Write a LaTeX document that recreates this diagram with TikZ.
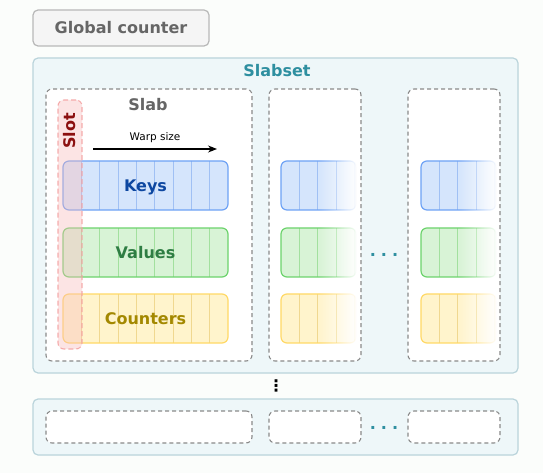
\documentclass[tikz,border=0pt]{standalone}
\usepackage{fontspec}
\setmainfont{DejaVu Sans}
\usetikzlibrary{arrows.meta,calc,fadings,positioning}

\definecolor{bgwhite}{HTML}{FBFDFB}
\definecolor{gcfill}{HTML}{F5F5F5}
\definecolor{gcline}{HTML}{B8B8B8}
\definecolor{graytext}{HTML}{666666}
\definecolor{setfill}{HTML}{EEF7F9}
\definecolor{setline}{HTML}{BAD4DB}
\definecolor{settext}{HTML}{2E8FA0}
\definecolor{slabline}{HTML}{8A8A8A}
\definecolor{slotfill}{HTML}{F9BDBD}
\definecolor{slotline}{HTML}{F4A0A0}
\definecolor{slottext}{HTML}{8B1010}
\definecolor{keyfill}{HTML}{D5E5FC}
\definecolor{keyline}{HTML}{6EA2F5}
\definecolor{keycell}{HTML}{A0C0F4}
\definecolor{keytext}{HTML}{0D47A1}
\definecolor{valfill}{HTML}{D8F3D6}
\definecolor{valline}{HTML}{6CD36C}
\definecolor{valcell}{HTML}{A2E09E}
\definecolor{valtext}{HTML}{2E7D43}
\definecolor{cntfill}{HTML}{FFF4CC}
\definecolor{cntline}{HTML}{FFD966}
\definecolor{cntcell}{HTML}{F0D890}
\definecolor{cnttext}{HTML}{A38800}

% opaque on the left half, fading out over the right half
\pgfdeclarehorizontalshading{cellshade}{100bp}{color(0bp)=(transparent!0); color(50bp)=(transparent!0); color(75bp)=(transparent!100); color(100bp)=(transparent!100)}
\pgfdeclarefading{fade cells}{\pgfuseshading{cellshade}}

\tikzset{
  lbl/.style={font=\fontsize{16}{19}\selectfont\bfseries, text height=11.7pt, text depth=0pt, inner sep=0pt},
  gcbox/.style={lbl, draw=gcline, fill=gcfill, text=graytext, line width=1.2pt, rounded corners=5pt, minimum width=176pt, minimum height=36pt},
  setbox/.style={draw=setline, fill=setfill, line width=1.2pt, rounded corners=5pt, minimum width=485pt},
  slabbox/.style={draw=slabline, fill=white, dash pattern=on 4pt off 3pt, line width=1.1pt, rounded corners=6pt, minimum height=272pt},
  cellrow/.style={lbl, fill=#1fill, draw=#1line, text=#1text, line width=1.2pt, rounded corners=6pt, minimum width=165pt, minimum height=49pt,
    path picture={\foreach \i in {1,...,8}
      \draw[#1cell, line width=0.9pt] ($(path picture bounding box.north west)+(\i*18.33,0)$) -- ($(path picture bounding box.south west)+(\i*18.33,0)$);}},
  fadedrow/.style={path fading=fade cells, minimum width=75pt},
  slotbox/.style={draw=slotline, fill=slotfill, fill opacity=0.4, draw opacity=0.85, dash pattern=on 5pt off 3pt, line width=1.1pt, rounded corners=6pt, minimum width=24pt, minimum height=249pt},
  warparrow/.style={-{Stealth[length=9pt, width=7pt]}, line width=1.1pt},
  dotlbl/.style={font=\fontsize{16}{19}\selectfont\bfseries, text=settext, inner sep=0pt, anchor=base}
}

\begin{document}
\begin{tikzpicture}[x=1pt, y=-1pt]
  \useasboundingbox[fill=bgwhite] (0,0) rectangle (543,473);

  \node[gcbox] (globalcnt) at (121,28) {Global counter};

  % slabset with its slabs
  \node[setbox, minimum height=315pt] (slabset) at (275.5,215.5) {};
  \node[lbl, text=settext, anchor=base] (slabsettitle) at (277,77) {Slabset};
  \node[slabbox, minimum width=206pt] (slab1) at (149,225) {};
  \node[slabbox, minimum width=92pt] (slab2) at (315,225) {};
  \node[slabbox, minimum width=92pt] (slab3) at (454,225) {};
  \node[lbl, text=graytext, anchor=base] (slabtitle) at (148,110.5) {Slab};

  \coordinate (warpstart) at (93,149);
  \coordinate (warpend) at (217,149);
  \draw[warparrow] (warpstart) -- node[above=2pt, font=\fontsize{10.5}{12}\selectfont] (warptitle) {Warp size} (warpend);

  \node[cellrow=key] (keys1) at (145.5,185.5) {Keys};
  \node[cellrow=val] (values1) at (145.5,252.5) {Values};
  \node[cellrow=cnt] (counters1) at (145.5,318.5) {Counters};
  \foreach \n/\cx in {2/318.5, 3/458.5}{
    \node[cellrow=key, fadedrow] (keys\n) at (\cx,185.5) {};
    \node[cellrow=val, fadedrow] (values\n) at (\cx,252.5) {};
    \node[cellrow=cnt, fadedrow] (counters\n) at (\cx,318.5) {};
  }

  \node[slotbox] (slot) at (70,224.5) {};
  \node[lbl, text=slottext, rotate=90] (slottitle) at (70,131) {Slot};

  \node[dotlbl] (slabdots) at (384,256) {.\kern5pt.\kern5pt.};
  \node[font=\fontsize{16}{19}\selectfont\bfseries, inner sep=0pt] (setdots) at (276,386) {⋮};

  % next slabset
  \node[setbox, minimum height=56pt] (slabsetb) at (275.5,427) {};
  \node[slabbox, minimum width=206pt, minimum height=32pt] (slab1b) at (149,427) {};
  \node[slabbox, minimum width=92pt, minimum height=32pt] (slab2b) at (315,427) {};
  \node[slabbox, minimum width=92pt, minimum height=32pt] (slab3b) at (454,427) {};
  \node[dotlbl] (slabdotsb) at (384,429) {.\kern5pt.\kern5pt.};
\end{tikzpicture}
\end{document}
